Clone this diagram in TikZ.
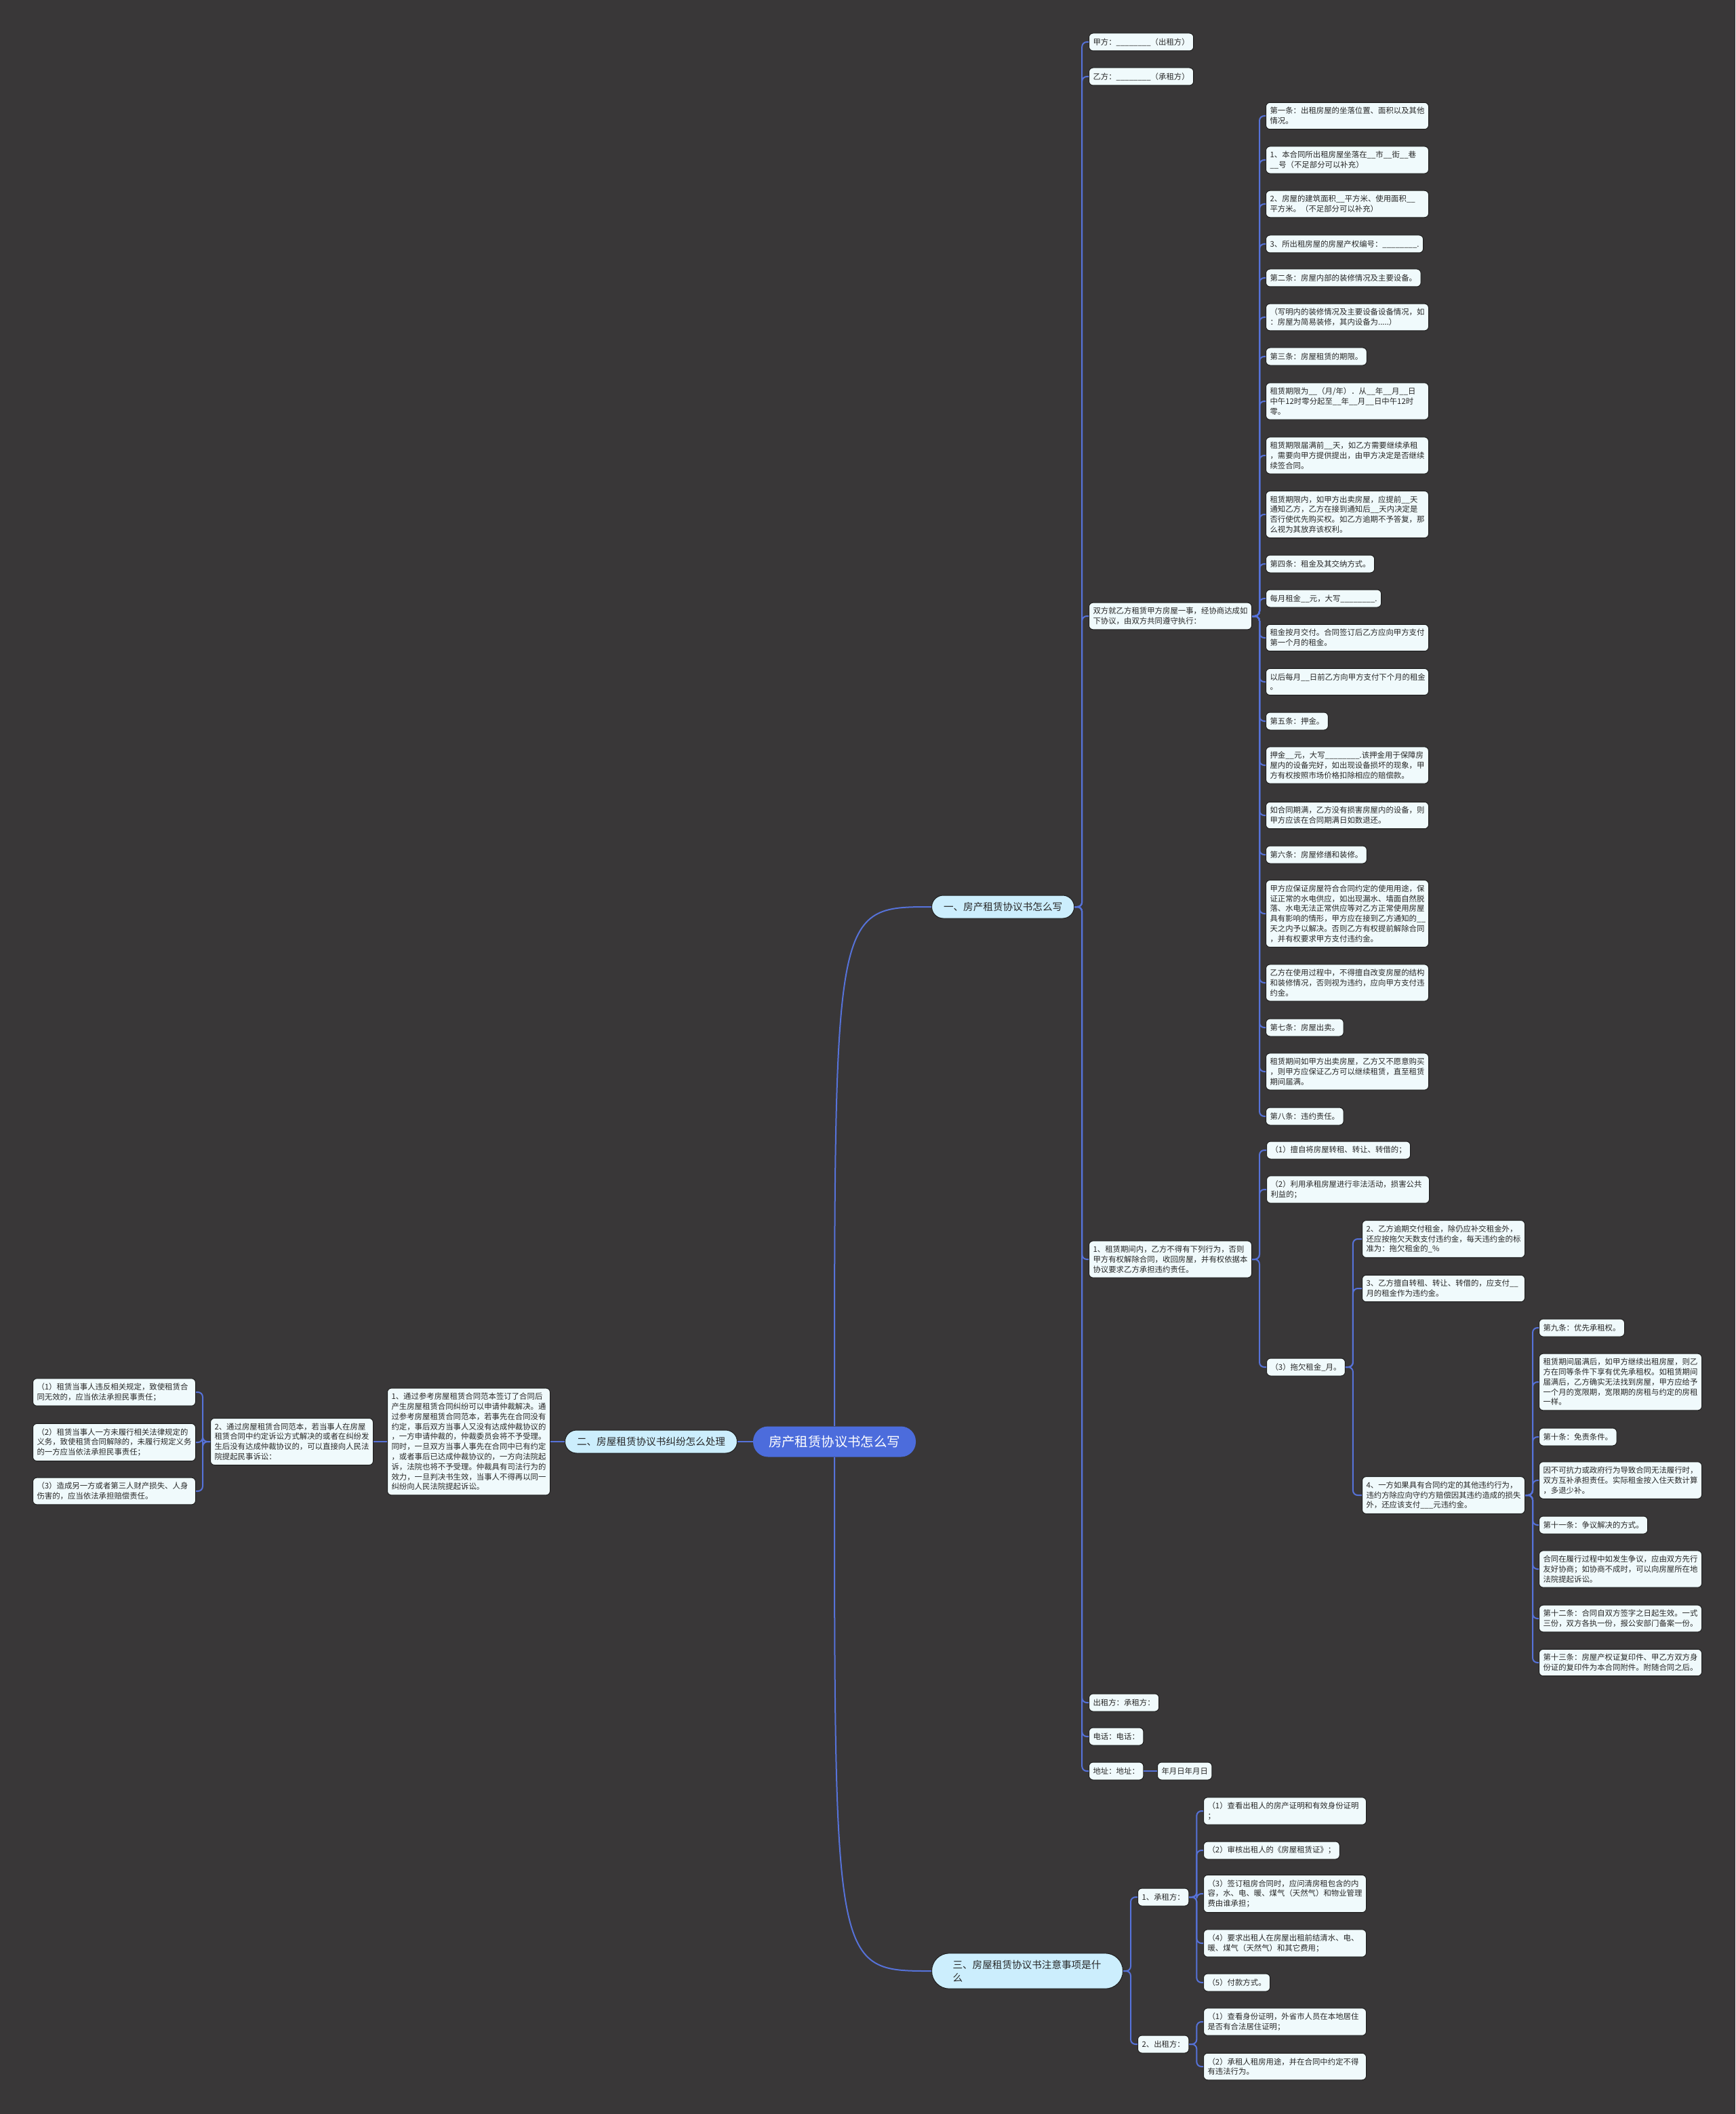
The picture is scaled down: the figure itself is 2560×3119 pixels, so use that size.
\documentclass[tikz,border=0pt]{standalone}
\usepackage{fontspec}
\setmainfont{Noto Sans CJK SC}
\usepackage{tikz}
\definecolor{bgdark}{RGB}{57,55,56}
\definecolor{linkblue}{RGB}{86,114,217}
\definecolor{leaffill}{RGB}{240,250,252}
\definecolor{leafedge}{RGB}{30,30,30}
\definecolor{topicfill}{RGB}{204,238,253}
\definecolor{rootblue}{RGB}{76,108,220}
\definecolor{inktext}{RGB}{40,40,40}
\newcommand\leaffont{\fontsize{5.7pt}{7.4pt}\selectfont}
\newcommand\topicfont{\fontsize{7.3pt}{9.5pt}\selectfont}

\begin{document}
\begin{tikzpicture}[x=0.5pt,y=-0.5pt,
    leaf/.style={draw=leafedge, line width=0.5pt, fill=leaffill, rounded corners=3pt,
        inner xsep=3pt, inner ysep=3.5pt, minimum height=13pt, font=\leaffont,
        text=inktext, align=left},
    wide/.style={text width=114pt},
    topic/.style={draw=leafedge, line width=0.5pt, fill=topicfill, rounded corners=8.5pt,
        inner xsep=8.75pt, minimum height=17pt, font=\topicfont, text=inktext, align=left},
    rootnode/.style={fill=rootblue, rounded corners=11pt, inner xsep=11.5pt,
        minimum height=22.5pt, font=\fontsize{9.7pt}{11pt}\selectfont, text=white},
    link/.style={draw=linkblue, line width=1pt},
    branch/.style={link, rounded corners=3.5pt}]
    \useasboundingbox (0,0) rectangle (2560,3119);
    \fill[bgdark] (0,0) rectangle (2560,3119);

    % centre and main topics
    \node[rootnode] (root) at (1231,2127) {房产租赁协议书怎么写};
    \node[topic,anchor=west] (t1) at (1374,1338) {一、房产租赁协议书怎么写};
    \node[topic,anchor=east] (t2) at (1088,2127) {二、房屋租赁协议书纠纷怎么处理};
    \node[topic,anchor=west,text width=110pt,inner xsep=15.5pt,inner ysep=5pt,rounded corners=13pt] (t3) at (1374,2908) {三、房屋租赁协议书注意事项是什\\么};

    % topic one
    \node[leaf,anchor=west] (c1) at (1606,62) {甲方：\_\_\_\_\_\_\_\_（出租方）};
    \node[leaf,anchor=west] (c2) at (1606,113) {乙方：\_\_\_\_\_\_\_\_（承租方）};
    \node[leaf,wide,anchor=west] (c3) at (1606,909) {双方就乙方租赁甲方房屋一事，经协商达成如\\下协议，由双方共同遵守执行：};
    \node[leaf,wide,anchor=west] (c4) at (1606,1858) {1、租赁期间内，乙方不得有下列行为，否则\\甲方有权解除合同，收回房屋，并有权依据本\\协议要求乙方承担违约责任。};
    \node[leaf,anchor=west] (c5) at (1606,2512) {出租方：承租方：};
    \node[leaf,anchor=west] (c6) at (1606,2562) {电话：电话：};
    \node[leaf,anchor=west] (c7) at (1606,2613) {地址：地址：};
    \node[leaf,anchor=west] (c8) at (1707,2613) {年月日年月日};

    \node[leaf,wide,anchor=west] (d1) at (1867,171) {第一条：出租房屋的坐落位置、面积以及其他\\情况。};
    \node[leaf,wide,anchor=west] (d2) at (1867,236) {1、本合同所出租房屋坐落在\_\_市\_\_街\_\_巷\\\_\_号（不足部分可以补充）};
    \node[leaf,wide,anchor=west] (d3) at (1867,301) {2、房屋的建筑面积\_\_平方米、使用面积\_\_\\平方米。（不足部分可以补充）};
    \node[leaf,anchor=west] (d4) at (1867,360) {3、所出租房屋的房屋产权编号：\_\_\_\_\_\_\_\_.};
    \node[leaf,anchor=west] (d5) at (1867,410) {第二条：房屋内部的装修情况及主要设备。};
    \node[leaf,wide,anchor=west] (d6) at (1867,468) {（写明内的装修情况及主要设备设备情况，如\\：房屋为简易装修，其内设备为.....）};
    \node[leaf,anchor=west] (d7) at (1867,526) {第三条：房屋租赁的期限。};
    \node[leaf,wide,anchor=west] (d8) at (1867,592) {租赁期限为\_\_（月/年）．从\_\_年\_\_月\_\_日\\中午12时零分起至\_\_年\_\_月\_\_日中午12时\\零。};
    \node[leaf,wide,anchor=west] (d9) at (1867,672) {租赁期限届满前\_\_天，如乙方需要继续承租\\，需要向甲方提供提出，由甲方决定是否继续\\续签合同。};
    \node[leaf,wide,anchor=west] (d10) at (1867,759) {租赁期限内，如甲方出卖房屋，应提前\_\_天\\通知乙方，乙方在接到通知后\_\_天内决定是\\否行使优先购买权。如乙方逾期不予答复，那\\么视为其放弃该权利。};
    \node[leaf,anchor=west] (d11) at (1867,832) {第四条：租金及其交纳方式。};
    \node[leaf,anchor=west] (d12) at (1867,883) {每月租金\_\_元，大写\_\_\_\_\_\_\_\_.};
    \node[leaf,wide,anchor=west] (d13) at (1867,941) {租金按月交付。合同签订后乙方应向甲方支付\\第一个月的租金。};
    \node[leaf,wide,anchor=west] (d14) at (1867,1006) {以后每月\_\_日前乙方向甲方支付下个月的租金\\。};
    \node[leaf,anchor=west] (d15) at (1867,1064) {第五条：押金。};
    \node[leaf,wide,anchor=west] (d16) at (1867,1129) {押金\_\_元，大写\_\_\_\_\_\_\_\_.该押金用于保障房\\屋内的设备完好，如出现设备损坏的现象，甲\\方有权按照市场价格扣除相应的赔偿款。};
    \node[leaf,wide,anchor=west] (d17) at (1867,1203) {如合同期满，乙方没有损害房屋内的设备，则\\甲方应该在合同期满日如数退还。};
    \node[leaf,anchor=west] (d18) at (1867,1261) {第六条：房屋修缮和装修。};
    \node[leaf,wide,anchor=west] (d19) at (1867,1348) {甲方应保证房屋符合合同约定的使用用途，保\\证正常的水电供应，如出现漏水、墙面自然脱\\落、水电无法正常供应等对乙方正常使用房屋\\具有影响的情形，甲方应在接到乙方通知的\_\_\\天之内予以解决。否则乙方有权提前解除合同\\，并有权要求甲方支付违约金。};
    \node[leaf,wide,anchor=west] (d20) at (1867,1450) {乙方在使用过程中，不得擅自改变房屋的结构\\和装修情况，否则视为违约，应向甲方支付违\\约金。};
    \node[leaf,anchor=west] (d21) at (1867,1516) {第七条：房屋出卖。};
    \node[leaf,wide,anchor=west] (d22) at (1867,1581) {租赁期间如甲方出卖房屋，乙方又不愿意购买\\，则甲方应保证乙方可以继续租赁，直至租赁\\期间届满。};
    \node[leaf,anchor=west] (d23) at (1867,1647) {第八条：违约责任。};

    % breach of contract
    \node[leaf,anchor=west] (e1) at (1868,1697) {（1）擅自将房屋转租、转让、转借的；};
    \node[leaf,wide,anchor=west] (e2) at (1868,1755) {（2）利用承租房屋进行非法活动，损害公共\\利益的；};
    \node[leaf,anchor=west] (e3) at (1868,2017) {（3）拖欠租金\_月。};
    \node[leaf,wide,anchor=west] (f1) at (2009,1828) {2、乙方逾期交付租金，除仍应补交租金外，\\还应按拖欠天数支付违约金，每天违约金的标\\准为：拖欠租金的\_\%};
    \node[leaf,wide,anchor=west] (f2) at (2009,1901) {3、乙方擅自转租、转让、转借的，应支付\_\_\\月的租金作为违约金。};
    \node[leaf,wide,anchor=west] (f3) at (2009,2206) {4、一方如果具有合同约定的其他违约行为，\\违约方除应向守约方赔偿因其违约造成的损失\\外，还应该支付\_\_\_元违约金。};

    \node[leaf,anchor=west] (g1) at (2270,1959) {第九条：优先承租权。};
    \node[leaf,wide,anchor=west] (g2) at (2270,2039) {租赁期间届满后，如甲方继续出租房屋，则乙\\方在同等条件下享有优先承租权。如租赁期间\\届满后，乙方确实无法找到房屋，甲方应给予\\一个月的宽限期，宽限期的房租与约定的房租\\一样。};
    \node[leaf,anchor=west] (g3) at (2270,2120) {第十条：免责条件。};
    \node[leaf,wide,anchor=west] (g4) at (2270,2184) {因不可抗力或政府行为导致合同无法履行时，\\双方互补承担责任。实际租金按入住天数计算\\，多退少补。};
    \node[leaf,anchor=west] (g5) at (2270,2250) {第十一条：争议解决的方式。};
    \node[leaf,wide,anchor=west] (g6) at (2270,2315) {合同在履行过程中如发生争议，应由双方先行\\友好协商；如协商不成时，可以向房屋所在地\\法院提起诉讼。};
    \node[leaf,wide,anchor=west] (g7) at (2270,2388) {第十二条：合同自双方签字之日起生效。一式\\三份，双方各执一份，报公安部门备案一份。};
    \node[leaf,wide,anchor=west] (g8) at (2270,2453) {第十三条：房屋产权证复印件、甲乙方双方身\\份证的复印件为本合同附件。附随合同之后。};

    % topic two (left side)
    \node[leaf,wide,anchor=east] (k1) at (812,2127) {1、通过参考房屋租赁合同范本签订了合同后\\产生房屋租赁合同纠纷可以申请仲裁解决。通\\过参考房屋租赁合同范本，若事先在合同没有\\约定，事后双方当事人又没有达成仲裁协议的\\，一方申请仲裁的，仲裁委员会将不予受理。\\同时，一旦双方当事人事先在合同中已有约定\\，或者事后已达成仲裁协议的，一方向法院起\\诉，法院也将不予受理。仲裁具有司法行为的\\效力，一旦判决书生效，当事人不得再以同一\\纠纷向人民法院提起诉讼。};
    \node[leaf,wide,anchor=east] (k2) at (551,2127) {2、通过房屋租赁合同范本，若当事人在房屋\\租赁合同中约定诉讼方式解决的或者在纠纷发\\生后没有达成仲裁协议的，可以直接向人民法\\院提起民事诉讼：};
    \node[leaf,wide,anchor=east] (l1) at (289,2054) {（1）租赁当事人违反相关规定，致使租赁合\\同无效的，应当依法承担民事责任；};
    \node[leaf,wide,anchor=east] (l2) at (289,2128) {（2）租赁当事人一方未履行相关法律规定的\\义务，致使租赁合同解除的，未履行规定义务\\的一方应当依法承担民事责任；};
    \node[leaf,wide,anchor=east] (l3) at (289,2200) {（3）造成另一方或者第三人财产损失、人身\\伤害的，应当依法承担赔偿责任。};

    % topic three
    \node[leaf,anchor=west] (h1) at (1678,2799) {1、承租方：};
    \node[leaf,anchor=west] (h2) at (1678,3016) {2、出租方：};
    \node[leaf,wide,anchor=west] (i1) at (1775,2672) {（1）查看出租人的房产证明和有效身份证明\\；};
    \node[leaf,anchor=west] (i2) at (1775,2730) {（2）审核出租人的《房屋租赁证》；};
    \node[leaf,wide,anchor=west] (i3) at (1775,2794) {（3）签订租房合同时，应问清房租包含的内\\容，水、电、暖、煤气（天然气）和物业管理\\费由谁承担；};
    \node[leaf,wide,anchor=west] (i4) at (1775,2867) {（4）要求出租人在房屋出租前结清水、电、\\暖、煤气（天然气）和其它费用；};
    \node[leaf,anchor=west] (i5) at (1775,2925) {（5）付款方式。};
    \node[leaf,wide,anchor=west] (j1) at (1775,2983) {（1）查看身份证明，外省市人员在本地居住\\是否有合法居住证明；};
    \node[leaf,wide,anchor=west] (j2) at (1775,3049) {（2）承租人租房用途，并在合同中约定不得\\有违法行为。};

    % connectors
    \draw[link] (root.west) -- (t2.east);
    \draw[link] (root.north) .. controls (root.north |- t1.west) .. (t1.west);
    \draw[link] (root.south) .. controls (root.south |- t3.west) .. (t3.west);
    \foreach \c in {c1,c2,c3,c4,c5,c6,c7}
        \draw[branch] (t1.east) -- ++(5.5pt,0) |- (\c.west);
    \draw[link] (c7.east) -- (c8.west);
    \foreach \c in {d1,d2,d3,d4,d5,d6,d7,d8,d9,d10,d11,d12,d13,d14,d15,d16,d17,d18,d19,d20,d21,d22,d23}
        \draw[branch] (c3.east) -- ++(5.5pt,0) |- (\c.west);
    \foreach \c in {e1,e2,e3}
        \draw[branch] (c4.east) -- ++(5.5pt,0) |- (\c.west);
    \foreach \c in {f1,f2,f3}
        \draw[branch] (e3.east) -- ++(5.5pt,0) |- (\c.west);
    \foreach \c in {g1,g2,g3,g4,g5,g6,g7,g8}
        \draw[branch] (f3.east) -- ++(5.5pt,0) |- (\c.west);
    \draw[link] (t2.west) -- (k1.east);
    \draw[link] (k1.west) -- (k2.east);
    \foreach \c in {l1,l2,l3}
        \draw[branch] (k2.west) -- ++(-5.5pt,0) |- (\c.east);
    \foreach \c in {h1,h2}
        \draw[branch] (t3.east) -- ++(5.5pt,0) |- (\c.west);
    \foreach \c in {i1,i2,i3,i4,i5}
        \draw[branch] (h1.east) -- ++(5.5pt,0) |- (\c.west);
    \foreach \c in {j1,j2}
        \draw[branch] (h2.east) -- ++(5.5pt,0) |- (\c.west);
\end{tikzpicture}
\end{document}
